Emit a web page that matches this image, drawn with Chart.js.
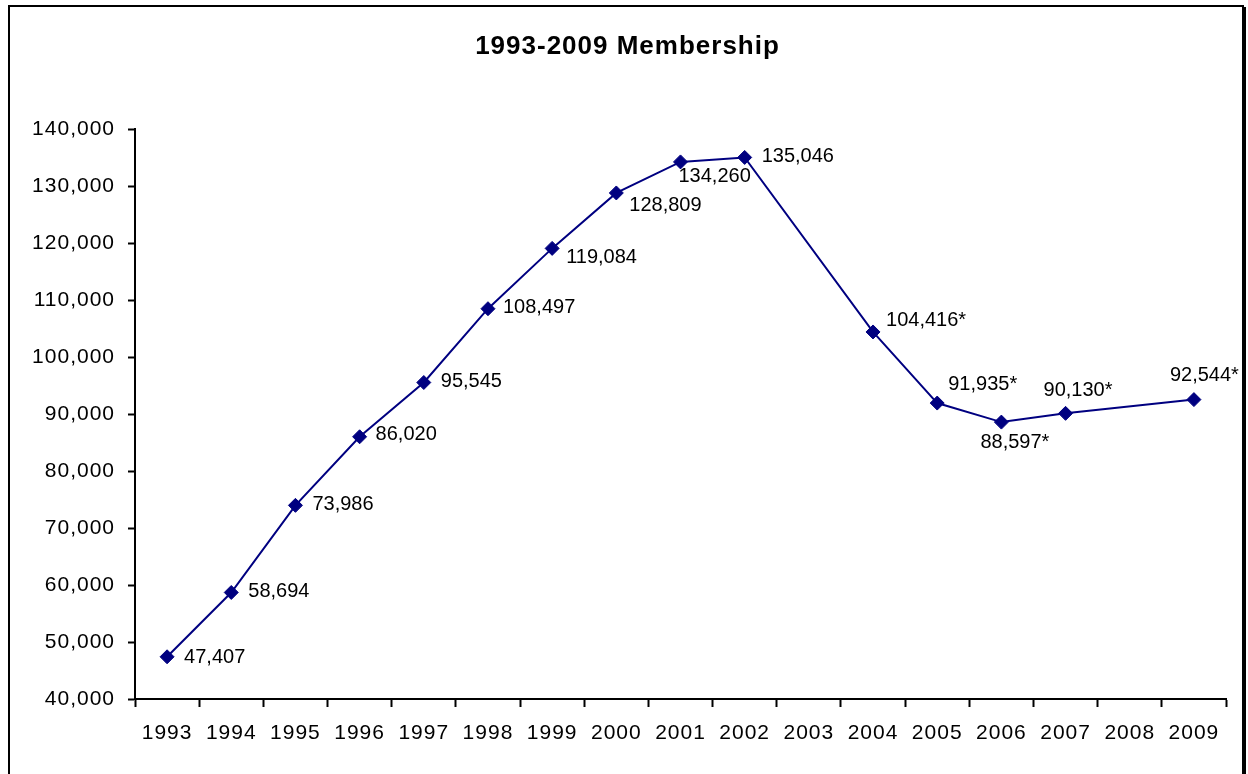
<!DOCTYPE html>
<html>
<head>
<meta charset="utf-8">
<title>1993-2009 Membership</title>
<script src="https://cdn.jsdelivr.net/npm/chart.js@4.4.1/dist/chart.umd.min.js"></script>
<style>
  html, body { margin: 0; padding: 0; background: #fff; overflow: hidden; }
  #wrap { position: relative; width: 1248px; height: 774px; }
  #frame {
    position: absolute; left: 8px; top: 5px;
    width: 1232px; height: 820px;
    border: 2px solid #000;
    box-shadow: 2px 2px 0 #000;
    pointer-events: none;
  }
  canvas { position: absolute; left: 0; top: 0; }
</style>
</head>
<body>
<div id="wrap">
  <canvas id="chart-membership" width="1248" height="774"></canvas>
  <div id="frame"></div>
</div>
<script>
// ── data ────────────────────────────────────────────────────────────────────
const years = ['1993', '1994', '1995', '1996', '1997', '1998', '1999', '2000',
               '2001', '2002', '2003', '2004', '2005', '2006', '2007', '2008', '2009'];

// no count for 2003 and 2008; the line just runs across those years
const members = [47407, 58694, 73986, 86020, 95545, 108497, 119084, 128809,
                 134260, 135046, null, 104416, 91935, 88597, 90130, null, 92544];

// estimated counts get a trailing asterisk on their label
const estimated = [false, false, false, false, false, false, false, false,
                   false, false, false, true, true, true, true, false, true];

const memberTicks = [40000, 50000, 60000, 70000, 80000, 90000,
                     100000, 110000, 120000, 130000, 140000];

// ── look ────────────────────────────────────────────────────────────────────
const FONT_FAMILY = "Arial, 'Liberation Sans', sans-serif";
const NAVY = '#000080';

// where each value label sits, relative to its point: [dx to text start, dy]
const LABEL_OFFSETS = [
  [17, 1], [17, -1], [17, -1], [16, -2], [17, -1], [15, -1], [14, 9], [13, 13],
  [-2, 15], [17, -1], null, [13, -11], [11, -19], [-21, 20], [-22, -23], null, [-24, -24],
];

const fmt = (v) => v.toLocaleString('en-US');

// Excel-ish spaced axis text
const textSpacing = {
  id: 'textSpacing',
  beforeDraw(chart) {
    chart.ctx.letterSpacing = '1px';
  },
};

const pointLabels = {
  id: 'pointLabels',
  afterDatasetsDraw(chart) {
    const { ctx } = chart;
    const meta = chart.getDatasetMeta(0);
    ctx.save();
    ctx.letterSpacing = '0px';
    ctx.font = `20px ${FONT_FAMILY}`;
    ctx.fillStyle = '#000';
    ctx.textAlign = 'left';
    ctx.textBaseline = 'middle';
    meta.data.forEach((pt, i) => {
      const v = members[i];
      if (v == null || !LABEL_OFFSETS[i]) return;
      const [dx, dy] = LABEL_OFFSETS[i];
      ctx.fillText(fmt(v) + (estimated[i] ? '*' : ''), pt.x + dx, pt.y + dy);
    });
    ctx.restore();
  },
};

new Chart(document.getElementById('chart-membership'), {
  type: 'line',
  data: {
    labels: years,
    datasets: [{
      label: 'Membership',
      data: members,
      borderColor: NAVY,
      backgroundColor: NAVY,
      borderWidth: 2,
      tension: 0,
      spanGaps: true,
      pointStyle: 'rectRot',
      pointRadius: 7,
      pointBorderWidth: 1,
      pointBackgroundColor: NAVY,
      pointBorderColor: NAVY,
    }],
  },
  options: {
    responsive: false,
    animation: false,
    events: [],
    layout: { padding: { top: 10, left: 29, right: 22, bottom: 0 } },
    plugins: {
      legend: { display: false },
      tooltip: { enabled: false },
      title: {
        display: true,
        text: '1993-2009 Membership',
        color: '#000',
        font: { family: FONT_FAMILY, size: 26, weight: 'bold', lineHeight: 1.2 },
        padding: { top: 21, bottom: 67 },
      },
    },
    scales: {
      x: {
        offset: true,
        grid: {
          offset: true,
          drawOnChartArea: false,
          drawTicks: true,
          tickLength: 8,
          tickColor: '#000',
          tickWidth: 2,
        },
        border: { display: true, color: '#000', width: 2 },
        ticks: {
          color: '#000',
          font: { family: FONT_FAMILY, size: 21 },
          padding: 14,
          autoSkip: false,
          maxRotation: 0,
        },
        afterFit: (s) => { s.height = 75; },
      },
      y: {
        min: memberTicks[0],
        max: memberTicks[memberTicks.length - 1],
        grid: {
          drawOnChartArea: false,
          drawTicks: true,
          tickLength: 7,
          tickColor: '#000',
          tickWidth: 2,
        },
        border: { display: true, color: '#000', width: 2 },
        ticks: {
          stepSize: memberTicks[1] - memberTicks[0],
          color: '#000',
          font: { family: FONT_FAMILY, size: 21 },
          padding: 13,
          callback: (v) => fmt(v),
        },
        afterFit: (s) => { s.width = 106; },
      },
    },
  },
  plugins: [textSpacing, pointLabels],
});
</script>
</body>
</html>
